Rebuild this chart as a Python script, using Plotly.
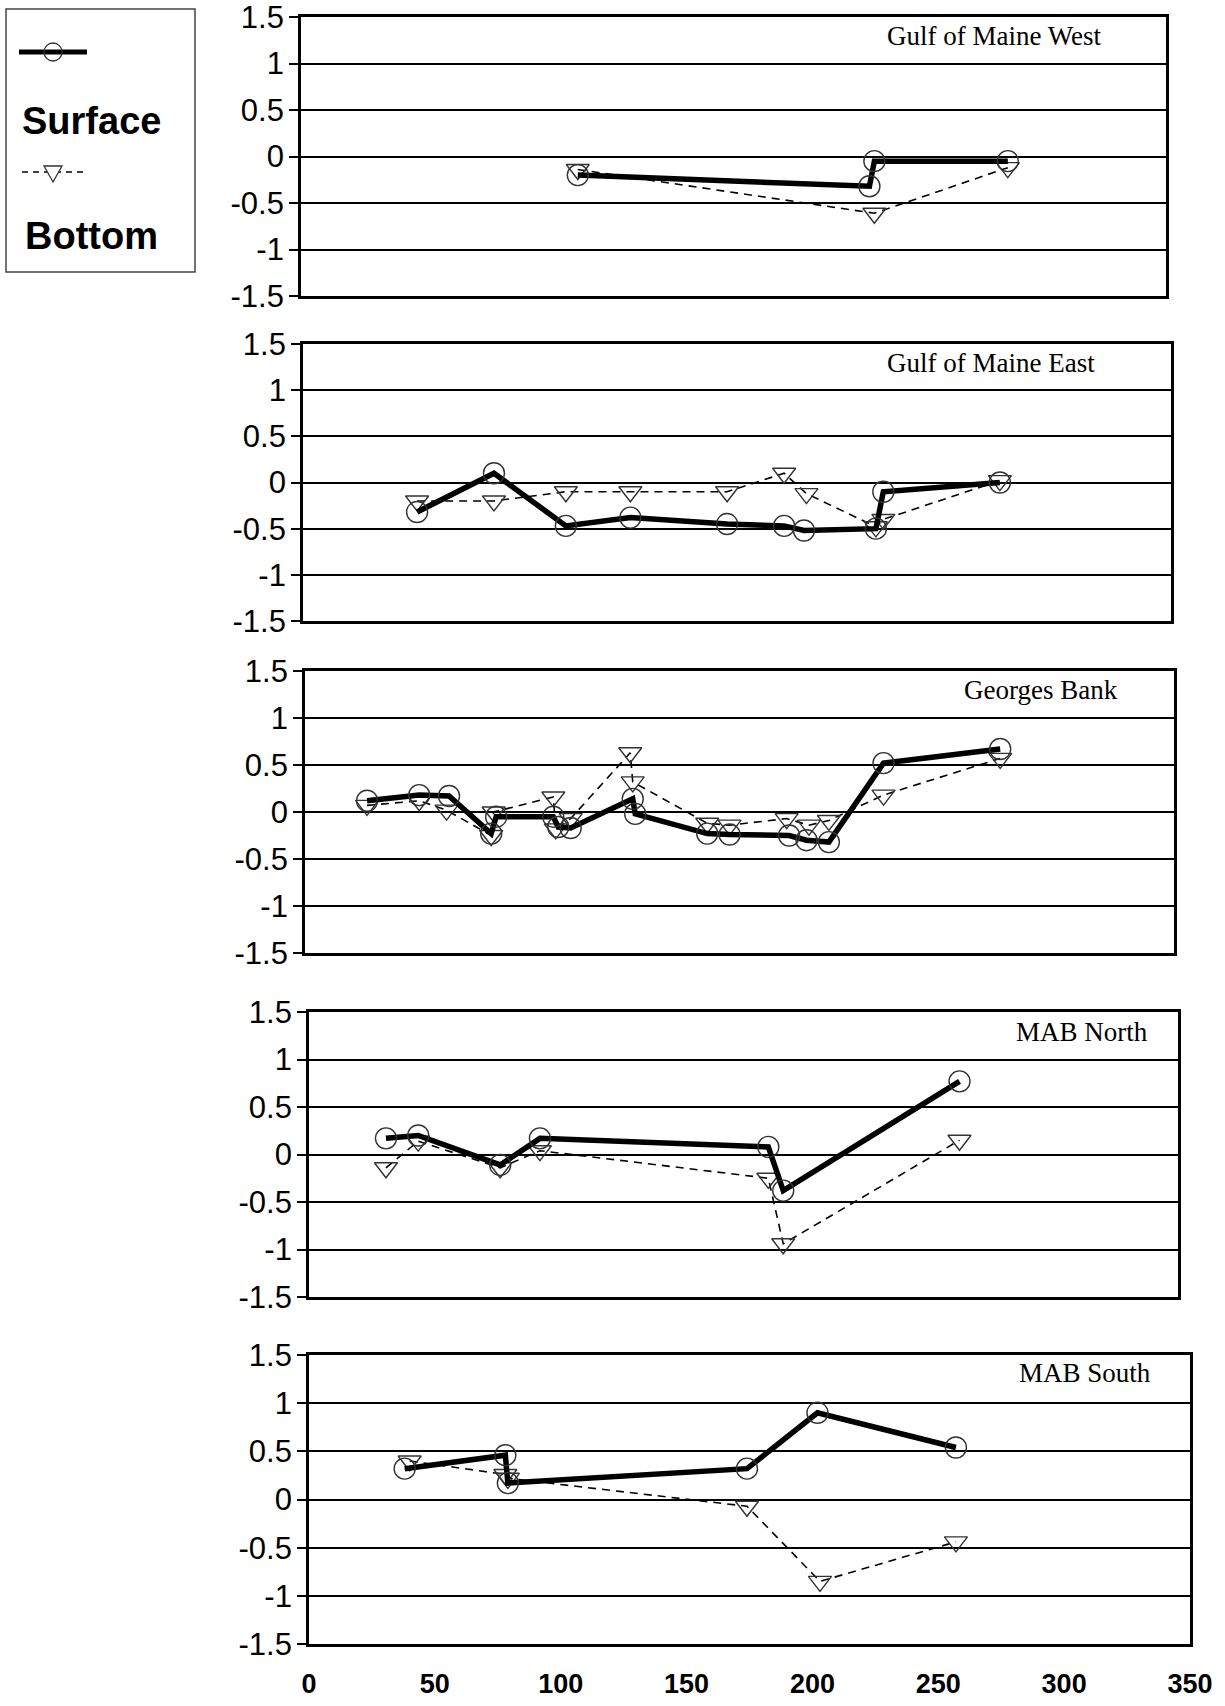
import plotly.graph_objects as go

# ---------------- data ----------------
panel_titles = ["Gulf of Maine West", "Gulf of Maine East", "Georges Bank", "MAB North", "MAB South"]

gmw_surface_x = [112, 230, 232, 286]
gmw_surface_y = [-0.2, -0.32, -0.05, -0.05]
gmw_bottom_x = [112, 232, 286]
gmw_bottom_y = [-0.14, -0.61, -0.12]

gme_surface_x = [46, 77, 106, 132, 171, 194, 202, 231, 234, 281]
gme_surface_y = [-0.32, 0.1, -0.47, -0.38, -0.45, -0.47, -0.52, -0.5, -0.1, 0.0]
gme_bottom_x = [46, 77, 106, 132, 171, 194, 203, 231, 234, 281]
gme_bottom_y = [-0.2, -0.2, -0.1, -0.1, -0.1, 0.1, -0.12, -0.48, -0.4, 0.02]

gb_surface_x = [25, 46, 58, 75, 77, 100, 102, 107, 132, 133, 162, 171, 195, 202, 211, 233, 280]
gb_surface_y = [0.12, 0.18, 0.17, -0.23, -0.05, -0.05, -0.16, -0.17, 0.14, -0.02, -0.23, -0.24, -0.25, -0.3, -0.32, 0.52, 0.67]
gb_bottom_x = [25, 46, 57, 75, 76, 100, 101, 107, 131, 132, 162, 171, 194, 203, 211, 233, 280]
gb_bottom_y = [0.07, 0.12, 0.02, -0.25, 0.0, 0.16, -0.18, -0.07, 0.63, 0.32, -0.12, -0.14, -0.07, -0.14, -0.09, 0.18, 0.57]

mn_surface_x = [31, 44, 77, 93, 185, 191, 262]
mn_surface_y = [0.17, 0.2, -0.11, 0.17, 0.08, -0.38, 0.77]
mn_bottom_x = [31, 44, 77, 93, 185, 191, 262]
mn_bottom_y = [-0.14, 0.14, -0.14, 0.04, -0.25, -0.94, 0.15]

ms_surface_x = [38, 78, 79, 174, 202, 257]
ms_surface_y = [0.32, 0.46, 0.17, 0.32, 0.9, 0.54]
ms_bottom_x = [40, 78, 79, 174, 203, 257]
ms_bottom_y = [0.4, 0.26, 0.22, -0.07, -0.85, -0.44]

y_tick_values = [-1.5, -1, -0.5, 0, 0.5, 1, 1.5]
y_tick_labels = ["-1.5", "-1", "-0.5", "0", "0.5", "1", "1.5"]
x_tick_values = [0, 50, 100, 150, 200, 250, 300, 350]
x_tick_labels = ["0", "50", "100", "150", "200", "250", "300", "350"]

surface_sets = [(gmw_surface_x, gmw_surface_y), (gme_surface_x, gme_surface_y), (gb_surface_x, gb_surface_y),
                (mn_surface_x, mn_surface_y), (ms_surface_x, ms_surface_y)]
bottom_sets = [(gmw_bottom_x, gmw_bottom_y), (gme_bottom_x, gme_bottom_y), (gb_bottom_x, gb_bottom_y),
               (mn_bottom_x, mn_bottom_y), (ms_bottom_x, ms_bottom_y)]

# ---------------- layout geometry (pixels) ----------------
W, H = 1225, 1706
# left, right, top, bottom of each plot frame
frames = [(301, 1166, 17, 296), (303, 1171, 344, 621), (305, 1174, 671, 953),
          (309, 1178, 1012, 1297), (309, 1190, 1355, 1644)]
title_pos = [(1104, 36), (1097, 363), (1120, 690), (1150, 1032), (1153, 1373)]


def px(x):
    return x / W


def py(y):
    return 1 - y / H


fig = go.Figure()
layout = dict(
    width=W, height=H, margin=dict(l=0, r=0, t=0, b=0, pad=0, autoexpand=False),
    paper_bgcolor="white", plot_bgcolor="white", showlegend=False,
    font=dict(family="Liberation Sans, Arial, sans-serif", color="black"),
)

annotations = []
shapes = []
for i in range(5):
    n = "" if i == 0 else str(i + 1)
    l, r, t, b = frames[i]
    last = i == 4
    layout["xaxis" + n] = dict(
        domain=[px(l), px(r)], range=[0, 350], anchor="y" + n, automargin=False,
        showgrid=False, zeroline=False, showline=True, mirror=True,
        linecolor="black", linewidth=2.8, ticks="",
        showticklabels=last, tickmode="array", tickvals=x_tick_values, ticktext=x_tick_labels,
        tickfont=dict(family="Liberation Sans Narrow, Arial Narrow, Liberation Sans", size=27, weight="bold"),
        ticklabelstandoff=14, ticklabeloverflow="allow",
    )
    layout["yaxis" + n] = dict(
        domain=[py(b), py(t)], range=[-1.5, 1.5], anchor="x" + n, automargin=False,
        tickmode="array", tickvals=y_tick_values, ticktext=y_tick_labels,
        showgrid=True, gridcolor="black", gridwidth=1.7, zeroline=False,
        showline=True, mirror=True, linecolor="black", linewidth=2.8,
        ticks="outside", ticklen=9, tickwidth=1.7, tickcolor="black",
        tickfont=dict(size=31, color="black"),
        ticklabelstandoff=-1, ticklabeloverflow="allow",
    )
    xb, yb = bottom_sets[i]
    xs, ys = surface_sets[i]
    fig.add_trace(go.Scatter(
        x=xb, y=yb, xaxis="x" + n, yaxis="y" + n, mode="lines+markers", name="Bottom",
        line=dict(color="black", width=1.6, dash="8px,6px"),
        marker=dict(symbol="triangle-down-open", size=20, color="#333", line=dict(width=1.4)),
    ))
    fig.add_trace(go.Scatter(
        x=xs, y=ys, xaxis="x" + n, yaxis="y" + n, mode="lines+markers", name="Surface",
        line=dict(color="black", width=5.5),
        marker=dict(symbol="circle-open", size=21, color="#333", line=dict(width=1.4)),
    ))
    tx, ty = title_pos[i]
    annotations.append(dict(
        text=panel_titles[i], xref="paper", yref="paper", x=px(tx), y=py(ty),
        xanchor="right", yanchor="middle", showarrow=False,
        font=dict(family="Liberation Serif, Times New Roman, serif", size=27, color="black"),
    ))

# ---------------- manual legend box ----------------
shapes.append(dict(type="rect", xref="paper", yref="paper", x0=px(6), x1=px(195), y0=py(9), y1=py(272),
                   line=dict(color="#444", width=1.5), fillcolor="rgba(0,0,0,0)"))
shapes.append(dict(type="line", xref="paper", yref="paper", x0=px(19), x1=px(87), y0=py(52), y1=py(52),
                   line=dict(color="black", width=5)))
shapes.append(dict(type="circle", xref="paper", yref="paper", x0=px(44), x1=px(62), y0=py(43), y1=py(61),
                   line=dict(color="#333", width=1.3)))
shapes.append(dict(type="line", xref="paper", yref="paper", x0=px(22), x1=px(86), y0=py(172), y1=py(172),
                   line=dict(color="black", width=1.5, dash="6px,5px")))
shapes.append(dict(type="path", xref="paper", yref="paper",
                   path="M {} {} L {} {} L {} {} Z".format(px(44), py(166), px(62), py(166), px(53), py(182)),
                   line=dict(color="#333", width=1.3), fillcolor="white"))
annotations.append(dict(text="<b>Surface</b>", xref="paper", yref="paper", x=px(20), y=py(121),
                        xanchor="left", yanchor="middle", showarrow=False,
                        font=dict(family="Liberation Sans, Arial", size=38, color="black")))
annotations.append(dict(text="<b>Bottom</b>", xref="paper", yref="paper", x=px(23), y=py(236),
                        xanchor="left", yanchor="middle", showarrow=False,
                        font=dict(family="Liberation Sans, Arial", size=38, color="black")))

layout["annotations"] = annotations
layout["shapes"] = shapes
fig.update_layout(**layout)
fig.write_html(
    "out.html",
    config={"displayModeBar": False},
    post_script="document.body.style.margin='0';document.documentElement.style.overflow='hidden';",
)
